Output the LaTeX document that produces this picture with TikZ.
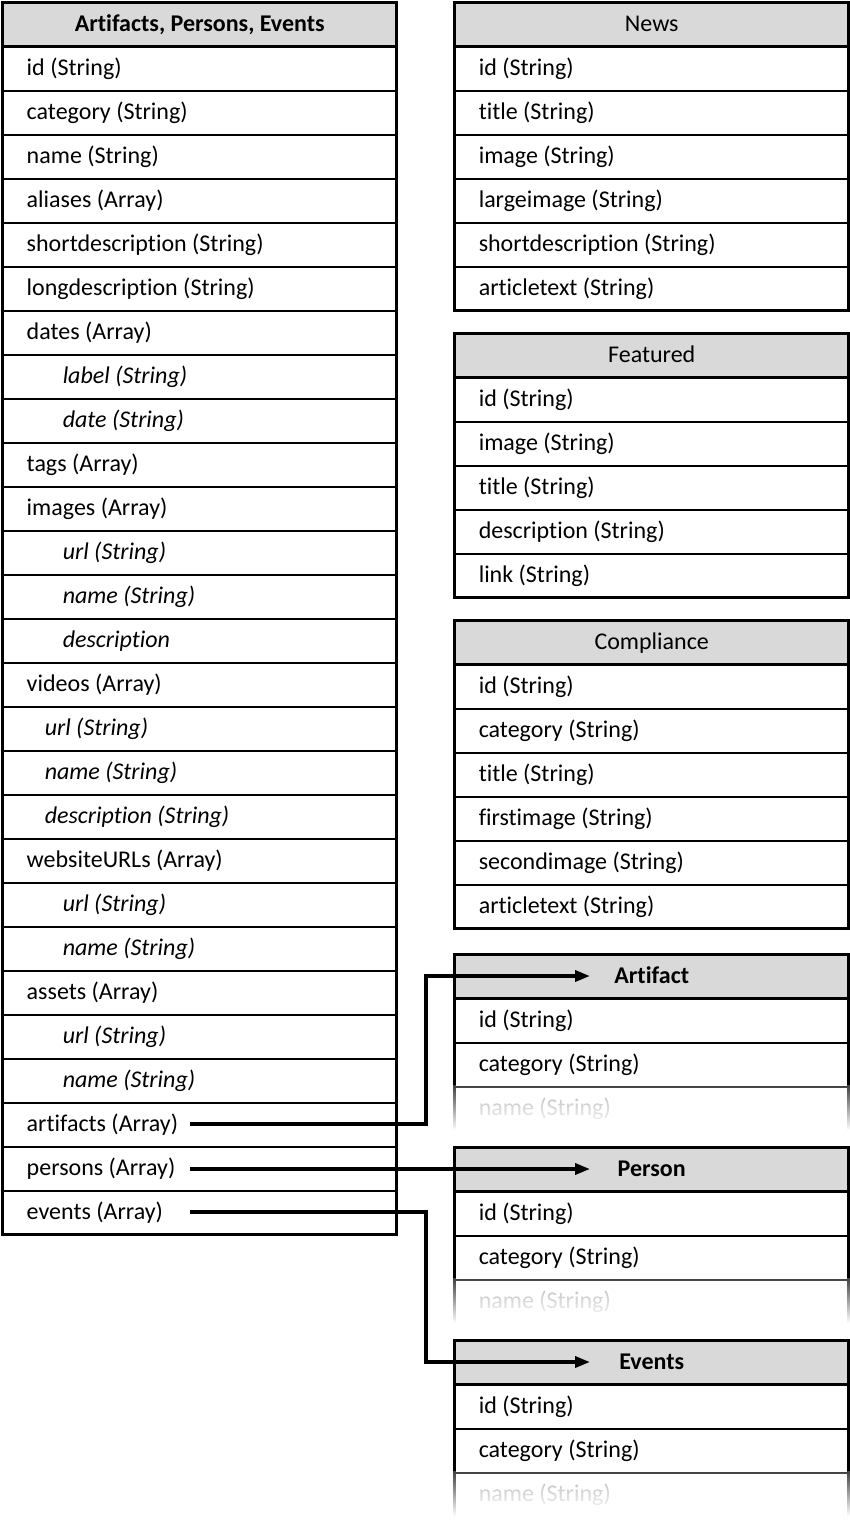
\documentclass[tikz,border=0pt]{standalone}
\usepackage{fontspec}
\setmainfont{Carlito}[RawFeature={-liga}]
\usetikzlibrary{arrows.meta,fadings}
\definecolor{hdrgray}{HTML}{D9D9D9}
\tikzfading[name=fadedown, top color=transparent!75, bottom color=transparent!0]
\tikzset{
  row/.style={draw, line width=1.5pt, minimum width=394pt, minimum height=44pt,
    inner xsep=24pt, inner ysep=0pt, text width=346pt, align=flush left, anchor=north west,
    font=\fontsize{24}{27}\selectfont, text height=17pt, text depth=3pt},
  hdr/.style={row, fill=hdrgray, align=flush center},
  faderow/.style={row, draw=none, text=black!40},
  frame/.style={line width=3pt},
  conn/.style={line width=3.5pt, -{Triangle[length=15pt,width=11pt]}},
}
\begin{document}
\begin{tikzpicture}[x=1pt, y=-1pt]
\useasboundingbox (0,0) rectangle (850,1534);
\fill[white] (0,0) rectangle (850,1534);

% ---------- left table ----------
\node[hdr] (L0) at (2,2) {\bfseries Artifacts, Persons, Events};
\foreach \txt/\ind [count=\i] in {
  id (String)/0, category (String)/0, name (String)/0, aliases (Array)/0,
  shortdescription (String)/0, longdescription (String)/0, dates (Array)/0,
  label (String)/1, date (String)/1, tags (Array)/0, images (Array)/0,
  url (String)/1, name (String)/1, description/1, videos (Array)/0,
  url (String)/2, name (String)/2, description (String)/2, websiteURLs (Array)/0,
  url (String)/1, name (String)/1, assets (Array)/0, url (String)/1,
  name (String)/1, artifacts (Array)/0, persons (Array)/0, events (Array)/0}
  \node[row] (L\i) at (2,{46+44*(\i-1)})
    {\ifcase\ind\or\hspace*{36pt}\itshape\or\hspace*{18pt}\itshape\fi\txt};
\draw[frame] (2,2) rectangle (396,1234);
\draw[frame] (2,46) -- (396,46);

% ---------- News ----------
\node[hdr] (N0) at (454,2) {News};
\foreach \txt [count=\i] in {id (String), title (String), image (String),
  largeimage (String), shortdescription (String), articletext (String)}
  \node[row] (N\i) at (454,{46+44*(\i-1)}) {\txt};
\draw[frame] (454,2) rectangle (848,310);
\draw[frame] (454,46) -- (848,46);

% ---------- Featured ----------
\node[hdr] (F0) at (454,333) {Featured};
\foreach \txt [count=\i] in {id (String), image (String), title (String),
  description (String), link (String)}
  \node[row] (F\i) at (454,{377+44*(\i-1)}) {\txt};
\draw[frame] (454,333) rectangle (848,597);
\draw[frame] (454,377) -- (848,377);

% ---------- Compliance ----------
\node[hdr] (C0) at (454,620) {Compliance};
\foreach \txt [count=\i] in {id (String), category (String), title (String),
  firstimage (String), secondimage (String), articletext (String)}
  \node[row] (C\i) at (454,{664+44*(\i-1)}) {\txt};
\draw[frame] (454,620) rectangle (848,928);
\draw[frame] (454,664) -- (848,664);

% ---------- faded tables ----------
\foreach \nm/\ttl/\top in {A/Artifact/954, P/Person/1147, E/Events/1340} {
  \node[hdr] (\nm0) at (454,\top) {\bfseries \ttl};
  \node[row] (\nm1) at (454,\top+44) {id (String)};
  \node[row] (\nm2) at (454,\top+88) {category (String)};
  \node[faderow] (\nm3) at (454,\top+132) {name (String)};
  \draw[frame] (454,\top+176) -- (454,\top) -- (848,\top) -- (848,\top+176);
  \draw[frame] (454,\top+44) -- (848,\top+44);
  \fill[white, path fading=fadedown] (450,\top+131) rectangle (852,\top+176);
}

% ---------- connectors ----------
\coordinate (aS) at (190,1124);
\coordinate (pS) at (190,1169);
\coordinate (eS) at (190,1212);
\coordinate (aE) at (590,976);
\coordinate (pE) at (590,1169);
\coordinate (eE) at (590,1362);
\draw[conn] (aS) -- (426,1124) |- (aE);
\draw[conn] (pS) -- (pE);
\draw[conn] (eS) -- (426,1212) |- (eE);
\end{tikzpicture}
\end{document}
